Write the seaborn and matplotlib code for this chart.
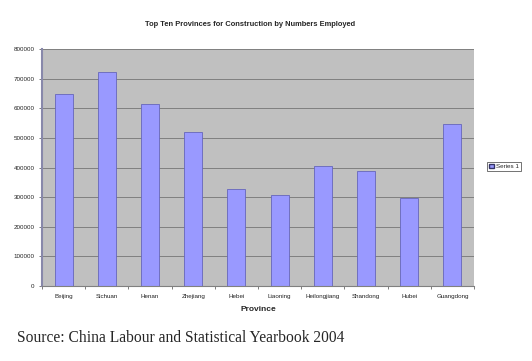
import matplotlib
matplotlib.use("Agg")
import matplotlib.pyplot as plt
import seaborn as sns
import pandas as pd
from matplotlib.patches import Patch

provinces = ["Beijing", "Sichuan", "Henan", "Zhejiang", "Hebei", "Liaoning",
             "Heilongjiang", "Shandong", "Hubei", "Guangdong"]
employed = [649000, 722000, 614000, 519000, 327000, 307000,
            405000, 388000, 297000, 546000]
yticks = [0, 100000, 200000, 300000, 400000, 500000, 600000, 700000, 800000]

df = pd.DataFrame({"Province": provinces, "Employed": employed})

sns.set_style("white")
plt.rcParams['font.family'] = ['Liberation Sans', 'DejaVu Sans']

fig = plt.figure(figsize=(5.32, 3.61), dpi=100)
ax = fig.add_axes([0.079, 0.208, 0.812, 0.656])
ax.set_facecolor("#C0C0C0")

sns.barplot(data=df, x="Province", y="Employed", color="#9999FF",
            saturation=1, width=0.42, edgecolor="#6666BB", linewidth=0.6, ax=ax)

ax.set_ylim(0, 800000)
ax.set_xlim(-0.5, len(provinces) - 0.5)
ax.set_yticks(yticks)
ax.set_yticklabels([str(v) for v in yticks], fontsize=4.5, color="#222222")
ax.set_xticks(range(len(provinces)))
ax.set_xticklabels(provinces, fontsize=4.5, color="#222222")
ax.tick_params(axis="x", length=0, pad=6)
ax.tick_params(axis="y", length=2.5, width=0.6, color="#666666", pad=3, left=True)
# minor ticks between categories
ax.set_xticks([i + 0.5 for i in range(-1, len(provinces))], minor=True)
ax.tick_params(axis="x", which="minor", length=2.5, width=0.6, color="#666666", bottom=True)

ax.yaxis.grid(True, color="#808080", linewidth=0.7)
ax.set_axisbelow(True)
for s in ["top", "right"]:
    ax.spines[s].set_visible(False)
ax.spines["left"].set_color("#8888AA")
ax.spines["left"].set_linewidth(1.5)
ax.spines["bottom"].set_color("#808080")
ax.spines["bottom"].set_linewidth(0.8)

ax.set_xlabel("Province", fontsize=6, fontweight="bold", labelpad=5)
ax.set_ylabel("")

fig.text(0.47, 0.933, "Top Ten Provinces for Construction by Numbers Employed",
         ha="center", va="center", fontsize=5.4, fontweight="bold")

leg = ax.legend(handles=[Patch(facecolor="#9999FF", edgecolor="#333366", label="Series 1")],
                loc="center left", bbox_to_anchor=(1.03, 0.505), fontsize=4.5,
                frameon=True, fancybox=False, handlelength=0.8, handleheight=0.8,
                borderpad=0.3, handletextpad=0.4, borderaxespad=0)
leg.get_frame().set_edgecolor("#333333")
leg.get_frame().set_linewidth(0.6)

fig.text(0.032, 0.064, "Source: China Labour and Statistical Yearbook 2004",
         ha="left", va="center", fontsize=11.2, family=["Liberation Serif", "DejaVu Serif"])

fig.savefig("out.png", dpi=100)
